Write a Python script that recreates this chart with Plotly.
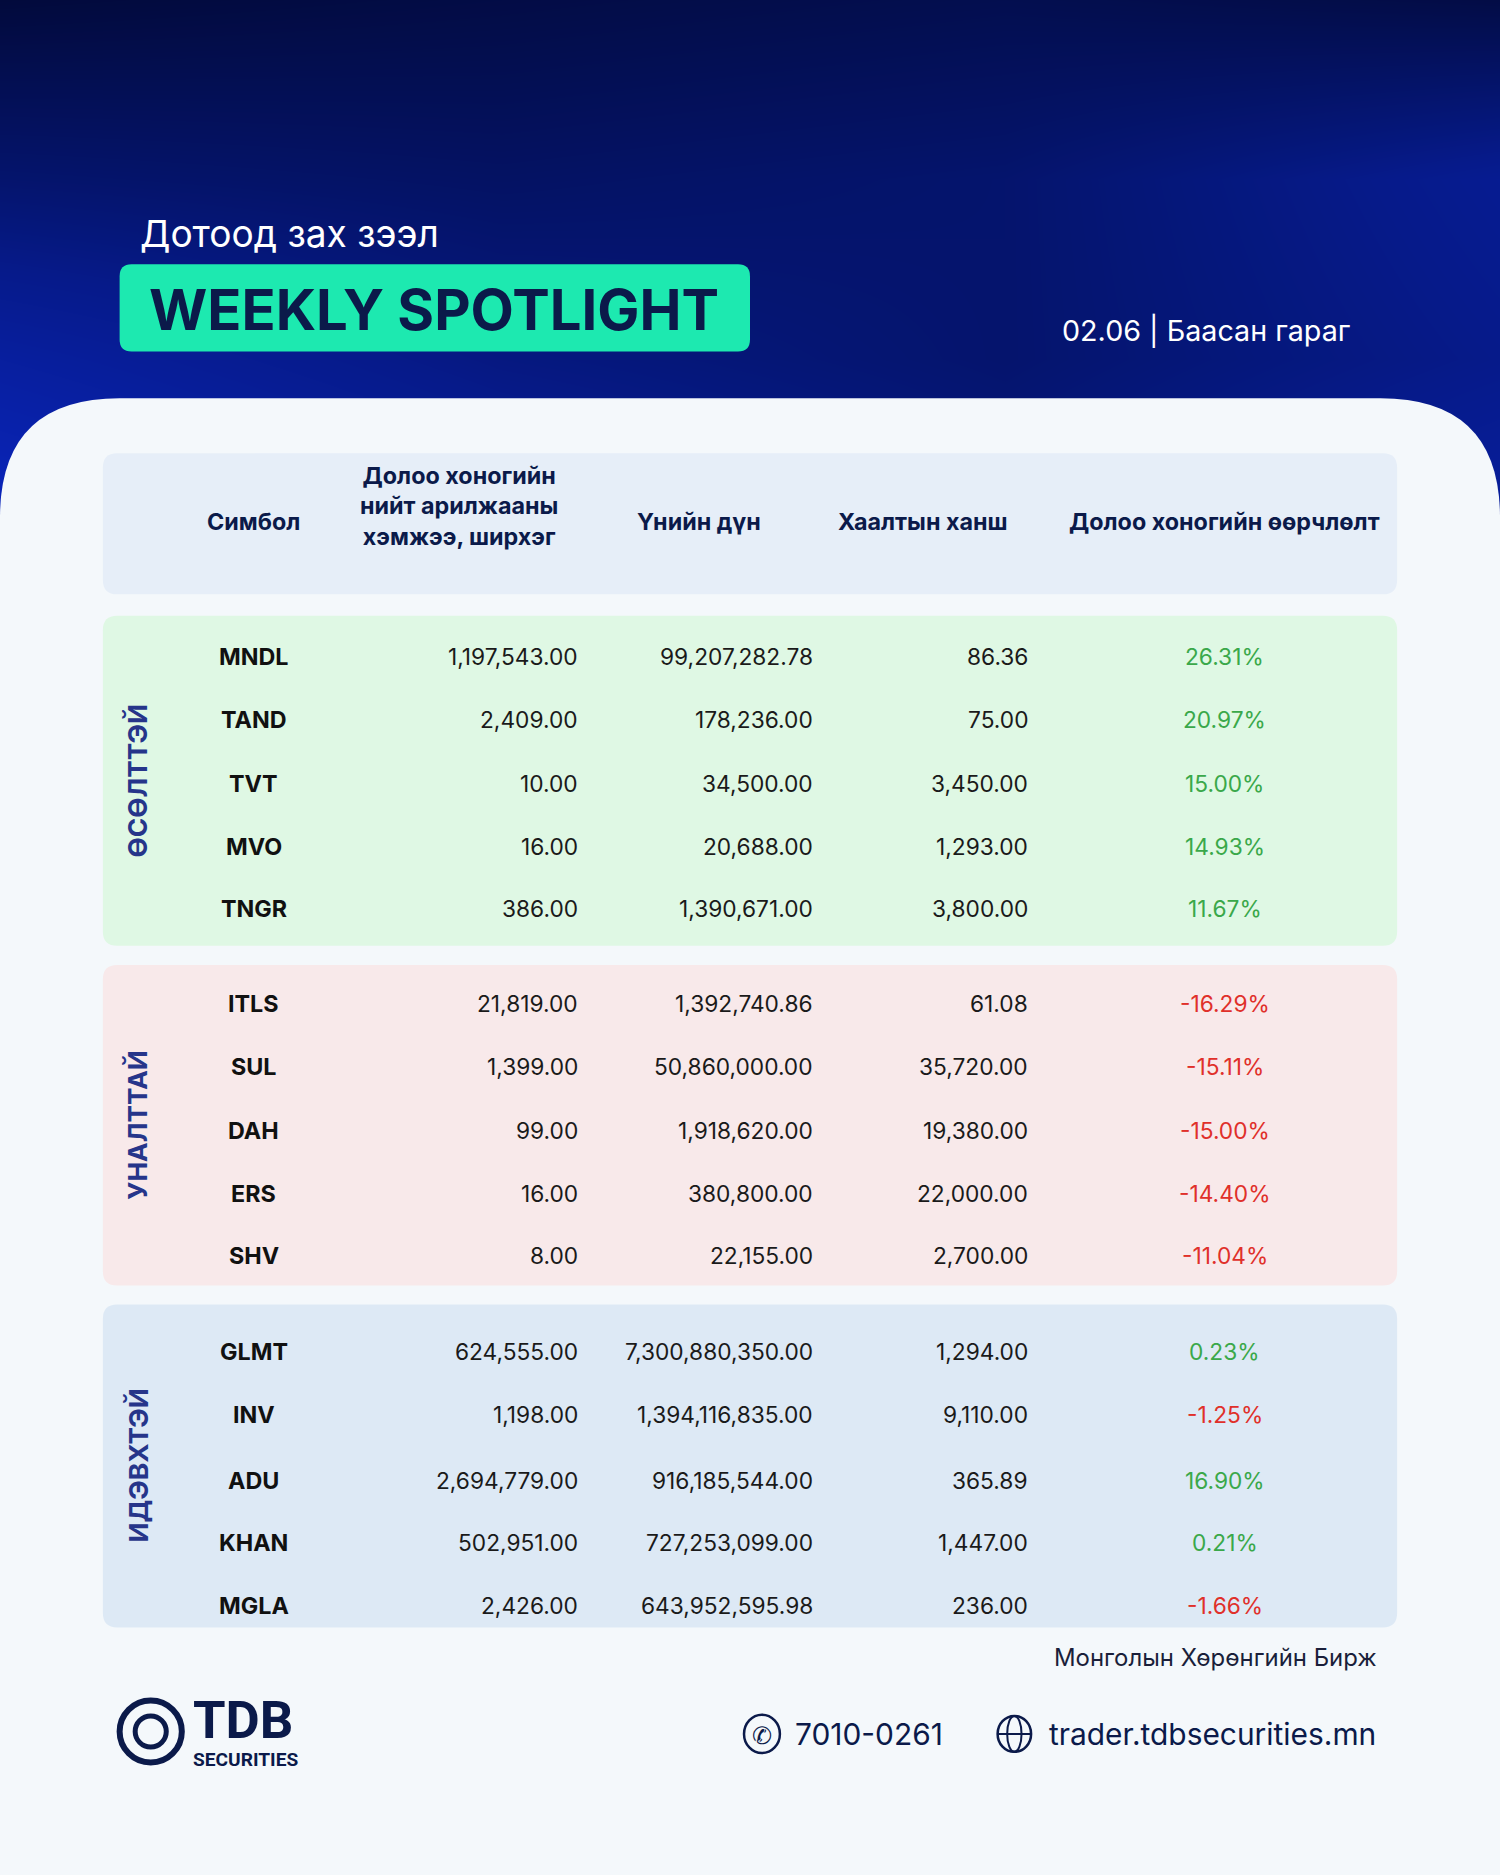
import plotly.graph_objects as go

S = 1500 / 1254  # reference was laid out at 1254 px wide


def fs(n):
    return n * S


groups = [
    ("ӨСӨЛТТЭЙ", "#dff8e4", 515, 791, [
        ("MNDL", "1,197,543.00", "99,207,282.78", "86.36", "26.31%"),
        ("TAND", "2,409.00", "178,236.00", "75.00", "20.97%"),
        ("TVT", "10.00", "34,500.00", "3,450.00", "15.00%"),
        ("MVO", "16.00", "20,688.00", "1,293.00", "14.93%"),
        ("TNGR", "386.00", "1,390,671.00", "3,800.00", "11.67%"),
    ], [549, 602, 655, 708, 760]),
    ("УНАЛТТАЙ", "#f8e9ea", 807, 1075, [
        ("ITLS", "21,819.00", "1,392,740.86", "61.08", "-16.29%"),
        ("SUL", "1,399.00", "50,860,000.00", "35,720.00", "-15.11%"),
        ("DAH", "99.00", "1,918,620.00", "19,380.00", "-15.00%"),
        ("ERS", "16.00", "380,800.00", "22,000.00", "-14.40%"),
        ("SHV", "8.00", "22,155.00", "2,700.00", "-11.04%"),
    ], [839, 892, 945, 998, 1050]),
    ("ИДЭВХТЭЙ", "#dde9f5", 1091, 1361, [
        ("GLMT", "624,555.00", "7,300,880,350.00", "1,294.00", "0.23%"),
        ("INV", "1,198.00", "1,394,116,835.00", "9,110.00", "-1.25%"),
        ("ADU", "2,694,779.00", "916,185,544.00", "365.89", "16.90%"),
        ("KHAN", "502,951.00", "727,253,099.00", "1,447.00", "0.21%"),
        ("MGLA", "2,426.00", "643,952,595.98", "236.00", "-1.66%"),
    ], [1130, 1183, 1238, 1290, 1343]),
]

NAVY = "#0b1a4a"
FONT = "Inter"

fig = go.Figure()

# dark blue header background
fig.add_trace(go.Heatmap(
    x=[0, 420, 840, 1254],
    y=[0, 150, 300, 450],
    z=[[0.05, 0.1, 0.15, 0.1],
       [0.3, 0.25, 0.3, 0.5],
       [0.6, 0.4, 0.3, 0.45],
       [0.85, 0.6, 0.4, 0.6]],
    colorscale=[[0, "#020a3c"], [0.5, "#061a8a"], [1, "#0a26c0"]],
    zsmooth="best", showscale=False, hoverinfo="skip"))

shapes = []
ann = []

# light panel with rounded top corners
shapes.append(dict(type="path", fillcolor="#f4f8fb", line_width=0, layer="above",
                   path="M0,1568 L0,433 Q0,333 100,333 L1154,333 Q1254,333 1254,433 L1254,1568 Z"))


def rbox(x0, y0, x1, y1, color, r=12):
    return dict(type="path", fillcolor=color, line_width=0, layer="above",
                path=f"M{x0+r},{y0} L{x1-r},{y0} Q{x1},{y0} {x1},{y0+r} L{x1},{y1-r} Q{x1},{y1} {x1-r},{y1} "
                     f"L{x0+r},{y1} Q{x0},{y1} {x0},{y1-r} L{x0},{y0+r} Q{x0},{y0} {x0+r},{y0} Z")


def text(x, y, t, size, color="#111111", xanchor="center", bold=False, angle=0, family=FONT):
    ann.append(dict(x=x, y=y, text=f"<b>{t}</b>" if bold else t, showarrow=False,
                    xanchor=xanchor, yanchor="middle", textangle=angle,
                    font=dict(size=fs(size), color=color, family=family)))


# title block
text(115, 195, "Дотоод зах зээл", 31, "white", "left")
shapes.append(rbox(100, 221, 627, 294, "#1de9b0", 10))
text(363, 259, "WEEKLY SPOTLIGHT", 47, NAVY, bold=True)
text(1130, 276, "02.06 | Баасан гараг", 24, "white", "right")

# table header
shapes.append(rbox(86, 379, 1168, 497, "#e6eef8"))
text(212, 436, "Симбол", 19.5, NAVY, bold=True)
text(384, 423, "Долоо хоногийн<br>нийт арилжааны<br>хэмжээ, ширхэг", 19.5, NAVY, bold=True)
text(584, 436, "Үнийн дүн", 19.5, NAVY, bold=True)
text(772, 436, "Хаалтын ханш", 19.5, NAVY, bold=True)
text(1024, 436, "Долоо хоногийн өөрчлөлт", 19.5, NAVY, bold=True)

for label, color, y0, y1, rows, ys in groups:
    shapes.append(rbox(86, y0, 1168, y1, color))
    text(115, (y0 + y1) / 2, label, 22, "#26358a", bold=True, angle=-90)
    for (sym, vol, val, close, chg), y in zip(rows, ys):
        text(212, y, sym, 19.5, "#111111", bold=True)
        text(485, y, vol, 19, "#1a1a1a", "right")
        text(681, y, val, 19, "#1a1a1a", "right")
        text(861, y, close, 19, "#1a1a1a", "right")
        text(1024, y, chg, 19, "#e0302a" if chg.startswith("-") else "#3aa84a")

# footer
text(1153, 1386, "Монголын Хөрөнгийн Бирж", 20, "#1a1f3a", "right")
text(663, 1450, "7010-0261", 25, NAVY, "left")
text(875, 1450, "trader.tdbsecurities.mn", 25, NAVY, "left")
shapes.append(dict(type="circle", x0=622, y0=1434, x1=652, y1=1466, line=dict(color=NAVY, width=2.5), layer="above"))
text(637, 1451, "✆", 20, NAVY)
shapes.append(dict(type="circle", x0=834, y0=1435, x1=862, y1=1465, line=dict(color=NAVY, width=2.5), layer="above"))
shapes.append(dict(type="line", x0=834, y0=1450, x1=862, y1=1450, line=dict(color=NAVY, width=2), layer="above"))
shapes.append(dict(type="circle", x0=842, y0=1435, x1=854, y1=1465, line=dict(color=NAVY, width=2), layer="above"))

# logo
shapes.append(dict(type="circle", x0=100, y0=1422, x1=152, y1=1474, line=dict(color=NAVY, width=6), layer="above"))
shapes.append(dict(type="circle", x0=113, y0=1435, x1=139, y1=1461, line=dict(color=NAVY, width=5), layer="above"))
text(160, 1438, "TDB", 44, NAVY, "left", bold=True, family="Roboto")
text(160, 1471, "SECURITIES", 16, NAVY, "left", bold=True, family="Roboto")

fig.update_layout(
    width=1500, height=1875, margin=dict(l=0, r=0, t=0, b=0),
    paper_bgcolor="#f4f8fb", plot_bgcolor="#f4f8fb",
    xaxis=dict(range=[0, 1254], visible=False, fixedrange=True),
    yaxis=dict(range=[1568, 0], visible=False, fixedrange=True),
    shapes=shapes, annotations=ann, showlegend=False,
)

fig.write_html("out.html", config={"displayModeBar": False},
               post_script="document.body.style.margin='0';")
